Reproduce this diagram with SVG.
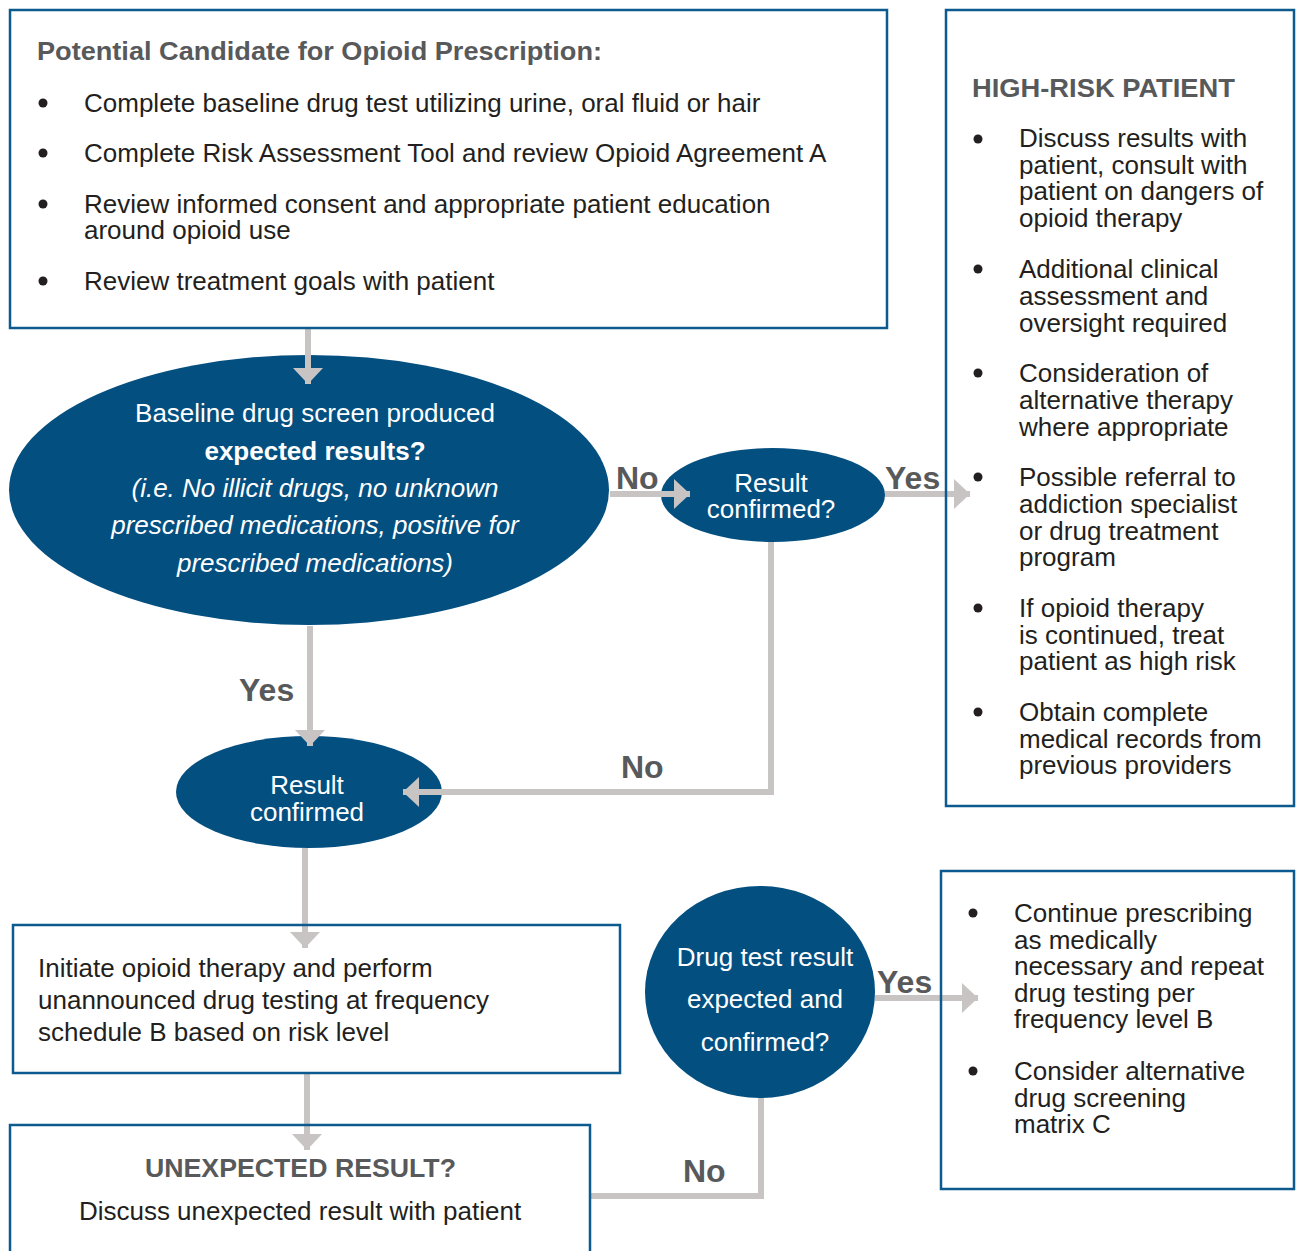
<svg xmlns="http://www.w3.org/2000/svg" width="1296" height="1251" viewBox="0 0 1296 1251">
<defs>
<style>
.box{fill:none;stroke:#0d5a8e;stroke-width:2.5}
.oval{fill:#034f80}
.con{fill:none;stroke:#c8c4c4;stroke-width:6}
.t{font-family:"Liberation Sans",Arial,sans-serif;font-size:26px;fill:#231f20}
.w{font-family:"Liberation Sans",Arial,sans-serif;font-size:26px;fill:#ffffff;text-anchor:middle}
.h{font-family:"Liberation Sans",Arial,sans-serif;font-size:25px;font-weight:bold;fill:#58595b}
.lbl{font-family:"Liberation Sans",Arial,sans-serif;font-size:32px;font-weight:bold;fill:#58595b}
.dot{fill:#231f20}
</style>
<marker id="ah" markerUnits="userSpaceOnUse" markerWidth="18" markerHeight="32" viewBox="0 0 18 32" refX="16" refY="16" orient="auto">
<path d="M0,1 L16,16 L0,31 Z" fill="#c8c4c4"/>
</marker>
</defs>

<g id="n-baseline">
<ellipse class="oval" cx="309" cy="490" rx="300" ry="135"/>
<text class="w" x="315" y="422">Baseline drug screen produced</text>
<text class="w" x="315" y="460" font-weight="bold">expected results?</text>
<text class="w" x="315" y="497" font-style="italic">(i.e. No illicit drugs, no unknown</text>
<text class="w" x="315" y="534" font-style="italic">prescribed medications, positive for</text>
<text class="w" x="315" y="572" font-style="italic">prescribed medications)</text>
</g>
<g id="n-confirmq">
<ellipse class="oval" cx="773" cy="495" rx="112" ry="47"/>
<text class="w" x="771" y="492">Result</text>
<text class="w" x="771" y="518">confirmed?</text>
</g>
<g id="n-confirmed">
<ellipse class="oval" cx="309" cy="792" rx="133" ry="56"/>
<text class="w" x="307" y="794">Result</text>
<text class="w" x="307" y="821">confirmed</text>
</g>
<g id="n-drugtest">
<ellipse class="oval" cx="760" cy="992" rx="115" ry="106"/>
<text class="w" x="765" y="966">Drug test result</text>
<text class="w" x="765" y="1008">expected and</text>
<text class="w" x="765" y="1051">confirmed?</text>
</g>

<g id="connectors">
<path class="con" d="M308,328 V384" marker-end="url(#ah)"/>
<path class="con" d="M310,626 V746" marker-end="url(#ah)"/>
<path class="con" d="M610,494 H690" marker-end="url(#ah)"/>
<path class="con" d="M885,494 H970" marker-end="url(#ah)"/>
<path class="con" d="M771,542 V792 H403" marker-end="url(#ah)"/>
<path class="con" d="M305,848 V948" marker-end="url(#ah)"/>
<path class="con" d="M307,1073 V1150" marker-end="url(#ah)"/>
<path class="con" d="M875,998 H978" marker-end="url(#ah)"/>
<path class="con" d="M761,1098 V1196 H590"/>
<text class="lbl" x="616" y="489">No</text>
<text class="lbl" x="885" y="489">Yes</text>
<text class="lbl" x="239" y="701">Yes</text>
<text class="lbl" x="621" y="778">No</text>
<text class="lbl" x="877" y="993">Yes</text>
<text class="lbl" x="683" y="1182">No</text>
</g>

<g id="n-candidate">
<rect class="box" x="10" y="10" width="877" height="318"/>
<text class="h" x="37" y="60" textLength="565" lengthAdjust="spacingAndGlyphs">Potential Candidate for Opioid Prescription:</text>
<circle class="dot" cx="43" cy="103" r="4.5"/>
<text class="t" x="84" y="112">Complete baseline drug test utilizing urine, oral fluid or hair</text>
<circle class="dot" cx="43" cy="153" r="4.5"/>
<text class="t" x="84" y="162">Complete Risk Assessment Tool and review Opioid Agreement A</text>
<circle class="dot" cx="43" cy="204" r="4.5"/>
<text class="t" x="84" y="213">Review informed consent and appropriate patient education</text>
<text class="t" x="84" y="239">around opioid use</text>
<circle class="dot" cx="43" cy="281" r="4.5"/>
<text class="t" x="84" y="290">Review treatment goals with patient</text>
</g>

<g id="n-highrisk">
<rect class="box" x="946" y="10" width="348" height="796"/>
<text class="h" x="972" y="97" textLength="263" lengthAdjust="spacingAndGlyphs">HIGH-RISK PATIENT</text>
<circle class="dot" cx="978" cy="139" r="4.5"/>
<text class="t" x="1019" y="147">Discuss results with</text>
<text class="t" x="1019" y="174">patient, consult with</text>
<text class="t" x="1019" y="200">patient on dangers of</text>
<text class="t" x="1019" y="227">opioid therapy</text>
<circle class="dot" cx="978" cy="269" r="4.5"/>
<text class="t" x="1019" y="278">Additional clinical</text>
<text class="t" x="1019" y="305">assessment and</text>
<text class="t" x="1019" y="332">oversight required</text>
<circle class="dot" cx="978" cy="373" r="4.5"/>
<text class="t" x="1019" y="382">Consideration of</text>
<text class="t" x="1019" y="409">alternative therapy</text>
<text class="t" x="1019" y="436">where appropriate</text>
<circle class="dot" cx="978" cy="477" r="4.5"/>
<text class="t" x="1019" y="486">Possible referral to</text>
<text class="t" x="1019" y="513">addiction specialist</text>
<text class="t" x="1019" y="540">or drug treatment</text>
<text class="t" x="1019" y="566">program</text>
<circle class="dot" cx="978" cy="608" r="4.5"/>
<text class="t" x="1019" y="617">If opioid therapy</text>
<text class="t" x="1019" y="644">is continued, treat</text>
<text class="t" x="1019" y="670">patient as high risk</text>
<circle class="dot" cx="978" cy="712" r="4.5"/>
<text class="t" x="1019" y="721">Obtain complete</text>
<text class="t" x="1019" y="748">medical records from</text>
<text class="t" x="1019" y="774">previous providers</text>
</g>

<g id="n-initiate">
<rect class="box" x="13" y="925" width="607" height="148"/>
<text class="t" x="38" y="977">Initiate opioid therapy and perform</text>
<text class="t" x="38" y="1009">unannounced drug testing at frequency</text>
<text class="t" x="38" y="1041">schedule B based on risk level</text>
</g>

<g id="n-continue">
<rect class="box" x="941" y="871" width="353" height="318"/>
<circle class="dot" cx="973" cy="913" r="4.5"/>
<text class="t" x="1014" y="922">Continue prescribing</text>
<text class="t" x="1014" y="949">as medically</text>
<text class="t" x="1014" y="975">necessary and repeat</text>
<text class="t" x="1014" y="1002">drug testing per</text>
<text class="t" x="1014" y="1028">frequency level B</text>
<circle class="dot" cx="973" cy="1071" r="4.5"/>
<text class="t" x="1014" y="1080">Consider alternative</text>
<text class="t" x="1014" y="1107">drug screening</text>
<text class="t" x="1014" y="1133">matrix C</text>
</g>

<g id="n-unexpected">
<rect class="box" x="10" y="1125" width="580" height="200"/>
<text class="h" x="145" y="1177" textLength="311" lengthAdjust="spacingAndGlyphs">UNEXPECTED RESULT?</text>
<text class="t" x="300" y="1220" text-anchor="middle">Discuss unexpected result with patient</text>
</g>
</svg>
